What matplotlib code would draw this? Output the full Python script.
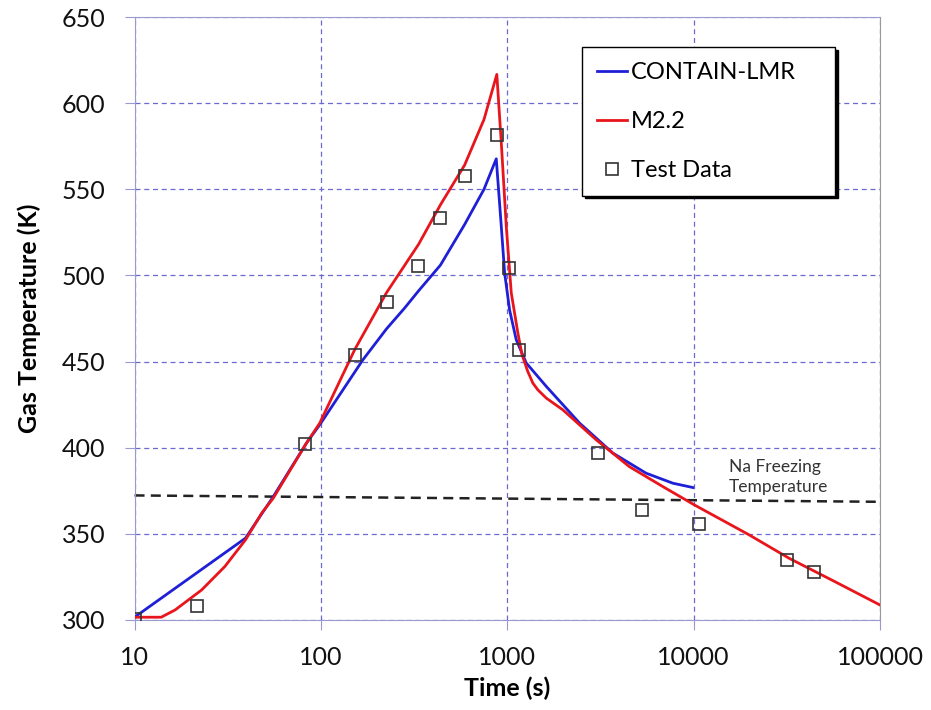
import matplotlib.pyplot as plt
import numpy as np

plt.rcParams['font.family'] = ['Lato', 'DejaVu Sans']

# CONTAIN-LMR (blue)
lmr_t = [10, 39.4, 55.5, 83.7, 98.6, 168, 225, 281, 334, 438, 590, 750, 873,
         929, 968, 1029, 1117, 1264, 1619, 2443, 3685, 5560, 7730, 9890]
lmr_T = [301.6, 347.5, 371.6, 402.7, 413.3, 451, 469, 481, 491, 506, 529.5, 550, 567.7,
         528.5, 501.5, 480, 462.7, 449.2, 435.6, 414.3, 396.9, 385.2, 379.4, 376.9]

# M2.2 (red)
m22_t = [10, 13.9, 16.5, 22.9, 30.5, 39.4, 48.1, 55.5, 83.7, 98.6, 152, 225, 334,
         438, 590, 750, 879, 929, 988, 1051, 1140, 1200, 1288, 1372, 1459, 1619, 1986,
         3000, 4520, 6820, 10090, 19860, 32550, 57900, 100000]
m22_T = [301.6, 301.6, 305.8, 317.4, 331, 346.5, 362, 370.7, 402.7, 414.3, 457, 490, 518,
         541, 564, 590.5, 616.7, 577, 528.5, 489.8, 466.6, 454, 444.3, 437.5, 433.6, 428.8,
         422, 404.6, 389, 377.5, 366.8, 349.4, 335.8, 322, 308.7]

# Test data
test_t = [10, 21.6, 82, 152, 225, 334, 438, 590, 877, 1028, 1163, 3050, 5310,
          10730, 31750, 44360]
test_T = [300.6, 308.1, 402.3, 454, 484.8, 505.7, 533.6, 558, 581.8, 504.5, 456.9,
          397, 363.9, 355.8, 334.9, 327.9]

# Na freezing temperature line
freeze_t = [10, 100000]
freeze_T = [372.3, 368.6]

fig = plt.figure(figsize=(9.31, 7.1), dpi=100)
ax = fig.add_axes([0.1445, 0.1268, 0.8007, 0.8492])

ax.plot(freeze_t, freeze_T, color='#222222', ls=(0, (4, 2.5)), lw=1.8, clip_on=False, zorder=2)
ax.plot(lmr_t, lmr_T, color='#1f1fd8', lw=2, label='CONTAIN-LMR', zorder=3)
ax.plot(m22_t, m22_T, color='#e8161c', lw=2, label='M2.2', zorder=3)
ax.plot(test_t, test_T, ls='none', marker='s', ms=8, mfc='none', mec='#333333',
        mew=1.2, label='Test Data', zorder=4)

ax.set_xscale('log')
ax.set_xlim(10, 100000)
ax.set_ylim(300, 650)
ax.set_xticks([10, 100, 1000, 10000, 100000])
ax.set_xticklabels(['10', '100', '1000', '10000', '100000'])
ax.minorticks_off()
ax.set_yticks(np.arange(300, 651, 50))

ax.grid(True, color='#6a6ad0', ls=(0, (4, 3)), lw=0.9)
for s in ['left', 'bottom', 'top']:
    ax.spines[s].set_color('#9a9ad0')
ax.spines['right'].set_color('#999999')
ax.tick_params(axis='both', labelsize=18, colors='#9a9ad0', labelcolor='#111111',
               length=7, direction='out')
ax.tick_params(axis='y', pad=14)
ax.tick_params(axis='x', pad=12)

ax.set_xlabel('Time (s)', fontsize=18, fontweight='bold')
ax.set_ylabel('Gas Temperature (K)', fontsize=18, fontweight='bold')
ax.xaxis.set_label_coords(0.5, -0.094)
ax.yaxis.set_label_coords(-0.1255, 0.5)

ax.text(15500, 383, 'Na Freezing\nTemperature', fontsize=12.5, color='#333333',
        ha='left', va='center', linespacing=1.35)

leg = ax.legend(loc='upper left', bbox_to_anchor=(0.6003, 0, 0.3394, 0.950), mode='expand',
                fontsize=17, frameon=True, fancybox=False,
                shadow={'color': 'black', 'alpha': 1},
                handlelength=1.3, handletextpad=0.15, labelspacing=1.19,
                borderpad=0.62, borderaxespad=0)
leg.get_frame().set_edgecolor('black')
leg.get_frame().set_linewidth(1.0)

fig.savefig('out.png', dpi=100)
